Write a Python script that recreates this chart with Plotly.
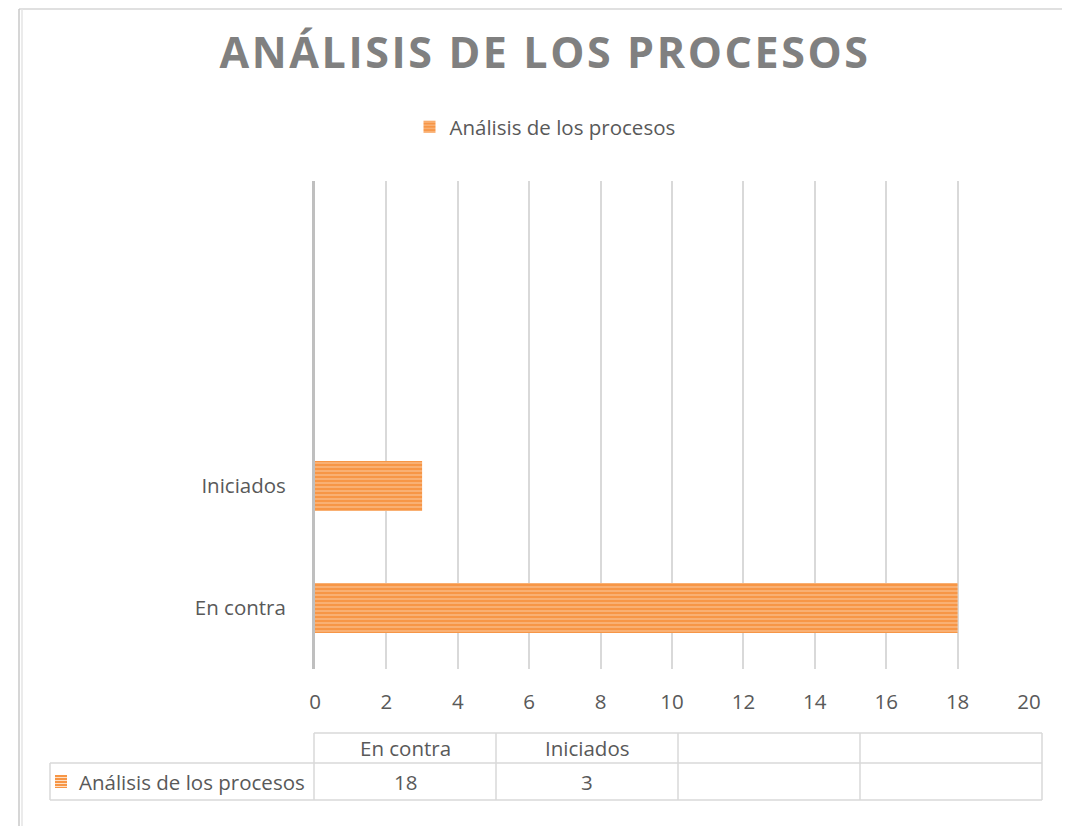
import plotly.graph_objects as go

# data
categories = ["En contra", "Iniciados", "", ""]
values = [18, 3, None, None]
series_name = "Análisis de los procesos"
title_text = "ANÁLISIS DE LOS PROCESOS"
x_ticks = list(range(0, 21, 2))

ORANGE = "#F79646"
LIGHT_ORANGE = "#FDE0C6"
GRID = "#D9D9D9"
TXT = "#595959"
FONT = "Open Sans"
FS = 20.5

OFF = 8                       # page body margin in the browser
W, H = 1070 - OFF, 826 - OFF
L, R, T, B = 315, 1029, 181, 669   # plot area in screen pixels


def px_x(p):
    return (p - L) / (R - L)


def px_y(p):
    return (B - p) / (B - T)


cats = [c for c, v in zip(categories, values) if v is not None]
vals = [v for v in values if v is not None]

fig = go.Figure()
# orange background with thin light stripes
fig.add_trace(go.Bar(
    x=vals, y=cats, orientation="h", name=series_name,
    marker=dict(color=ORANGE, line=dict(width=0),
                pattern=dict(shape="-", fgcolor=LIGHT_ORANGE, bgcolor=ORANGE,
                             size=4, solidity=0.35)),
))

# ---- frame around the chart (as in the source document) ----
shapes = [
    dict(type="line", xref="paper", yref="paper", x0=px_x(19), x1=px_x(1070), y0=px_y(9), y1=px_y(9),
         line=dict(color="#D6D6D6", width=1.5)),
    dict(type="line", xref="paper", yref="paper", x0=px_x(19), x1=px_x(19), y0=px_y(9), y1=px_y(830),
         line=dict(color="#C8C8C8", width=1.5)),
    dict(type="line", xref="paper", yref="paper", x0=px_x(22), x1=px_x(22), y0=px_y(9), y1=px_y(830),
         line=dict(color="#E4E4E4", width=1.5)),
]

# ---- data table under the chart ----
tab_l, tab_x0, tab_x1 = 50, 314, 1042
row0, row1, row2 = 733, 763, 800
col_w = (tab_x1 - tab_x0) / len(categories)
tline = dict(color=GRID, width=1.5)

def hline(y, xa, xb):
    return dict(type="line", xref="paper", yref="paper", x0=px_x(xa), x1=px_x(xb),
                y0=px_y(y), y1=px_y(y), line=tline)

def vline(x, ya, yb):
    return dict(type="line", xref="paper", yref="paper", x0=px_x(x), x1=px_x(x),
                y0=px_y(ya), y1=px_y(yb), line=tline)

shapes += [hline(row0, tab_x0, tab_x1), hline(row1, tab_l, tab_x1), hline(row2, tab_l, tab_x1),
           vline(tab_l, row1, row2)]
for i in range(len(categories) + 1):
    shapes.append(vline(tab_x0 + i * col_w, row0, row2))

# legend key inside the table
shapes.append(dict(type="rect", xref="paper", yref="paper", x0=px_x(55), x1=px_x(67),
                   y0=px_y(788), y1=px_y(775), fillcolor=ORANGE, line=dict(width=0)))
for yy in (777.5, 780.5, 783.5, 786.5):
    shapes.append(dict(type="line", xref="paper", yref="paper", x0=px_x(55), x1=px_x(67),
                       y0=px_y(yy), y1=px_y(yy), line=dict(color=LIGHT_ORANGE, width=1)))

annotations = [dict(text=series_name, xref="paper", yref="paper", x=px_x(77), y=px_y((row1 + row2) / 2),
                    xanchor="left", yanchor="middle", showarrow=False,
                    font=dict(family=FONT, size=FS, color=TXT))]
for i, (c, v) in enumerate(zip(categories, values)):
    cx = px_x(tab_x0 + (i + 0.5) * col_w)
    annotations.append(dict(text=c, xref="paper", yref="paper", x=cx, y=px_y((row0 + row1) / 2),
                            xanchor="center", yanchor="middle", showarrow=False,
                            font=dict(family=FONT, size=FS, color=TXT)))
    annotations.append(dict(text="" if v is None else str(v), xref="paper", yref="paper", x=cx,
                            y=px_y((row1 + row2) / 2), xanchor="center", yanchor="middle",
                            showarrow=False, font=dict(family=FONT, size=FS, color=TXT)))

fig.update_layout(
    width=W, height=H,
    margin=dict(l=L - OFF, r=W - (R - OFF), t=T - OFF, b=H - (B - OFF), pad=0),
    paper_bgcolor="white", plot_bgcolor="white",
    title=dict(text=f'<span style="letter-spacing:2.6px">{title_text}</span>',
               xref="container", x=(545 - OFF) / W, y=1 - (53 - OFF) / H,
               xanchor="center", yanchor="middle",
               font=dict(family=FONT, size=43, color="#808080", weight="bold")),
    showlegend=True,
    legend=dict(orientation="h", x=px_x(545), y=px_y(127), xanchor="center", yanchor="middle",
                font=dict(family=FONT, size=FS, color=TXT), bgcolor="rgba(0,0,0,0)"),
    bargap=0.59,
    xaxis=dict(range=[0, 20], tickvals=x_ticks, showgrid=True, gridcolor=GRID, gridwidth=1.5,
               zeroline=False, showline=False, ticks="", ticklabelstandoff=18,
               tickfont=dict(family=FONT, size=FS, color=TXT), fixedrange=True),
    yaxis=dict(type="category", categoryarray=cats, range=[-0.5, len(categories) - 0.5],
               showgrid=False, zeroline=False, showline=True, linecolor="#BFBFBF", linewidth=3,
               ticks="", ticklabelstandoff=22,
               tickfont=dict(family=FONT, size=FS, color=TXT), fixedrange=True),
    shapes=shapes, annotations=annotations,
)

fig.write_html("out.html")
